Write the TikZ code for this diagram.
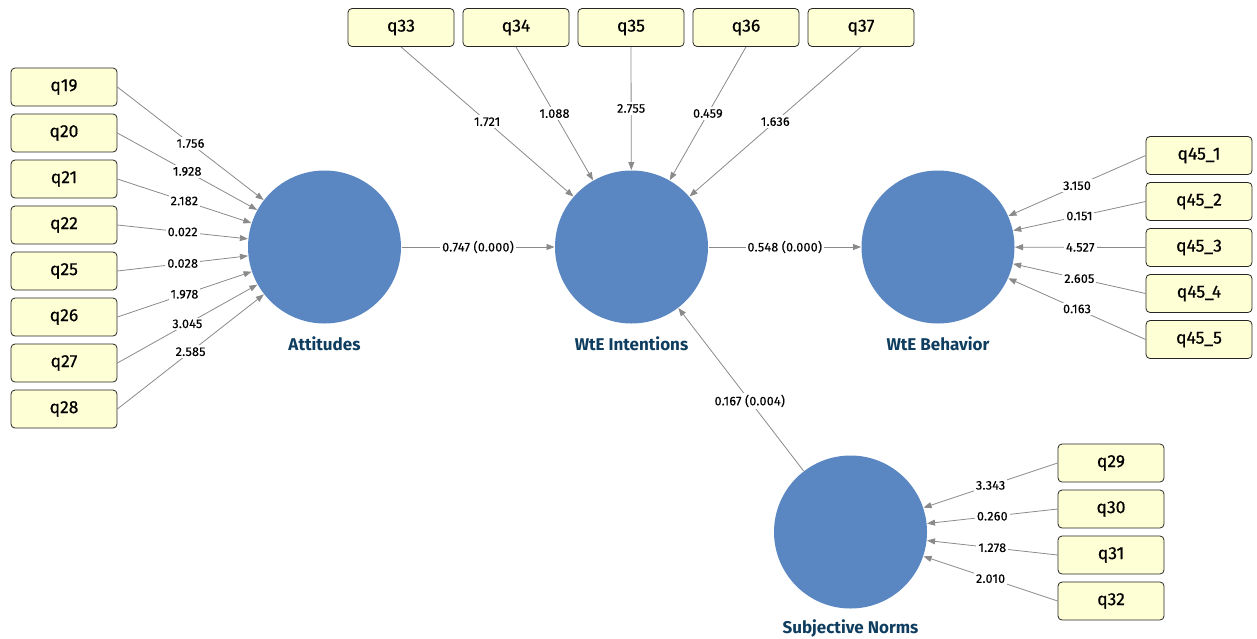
\documentclass[tikz,border=0pt]{standalone}
\usepackage{fontspec}
\setmainfont{Fira Sans}
\newfontfamily\boxfont{Fira Sans}[FakeBold=0.5]
\newfontfamily\numfont{Fira Sans}[FakeBold=0.3, LetterSpace=2]
\usetikzlibrary{arrows.meta}
\definecolor{lvcol}{HTML}{5A87C2}
\definecolor{lvtext}{HTML}{0E3D5F}
\definecolor{boxfill}{HTML}{FFFFD6}
\definecolor{edgecol}{HTML}{8A8A8A}
\begin{document}
\begin{tikzpicture}[x=1pt,y=-1pt,
  ind/.style={draw=black!85, fill=boxfill, rounded corners=4pt, minimum width=106pt, minimum height=38pt, inner sep=0pt, line width=0.8pt, font=\boxfont\fontsize{17.5}{19}\selectfont},
  lv/.style={circle, fill=lvcol, minimum size=153pt, inner sep=0pt, outer sep=0.5pt},
  lvlab/.style={font=\fontsize{17}{19}\selectfont\bfseries, text=lvtext},
  conn/.style={draw=edgecol, line width=0.8pt, -{Triangle[length=8pt,width=6pt]}},
  wlab/.style={fill=white, inner sep=2pt, font=\numfont\fontsize{12.5}{14}\selectfont, text=black}]
\useasboundingbox (0,0) rectangle (1257,638);

% latent variables
\node[lv] (att) at (324.5,247) {};
\node[lv] (int) at (631.5,247) {};
\node[lv] (beh) at (938,247) {};
\node[lv] (sn)  at (850.5,532) {};
\node[lvlab] (latt) at (324.5,344) {Attitudes};
\node[lvlab] (lint) at (631.5,344) {WtE Intentions};
\node[lvlab] (lbeh) at (938,344) {WtE Behavior};
\node[lvlab] (lsn)  at (850.5,628) {Subjective Norms};

% Attitudes indicators
\node[ind] (q19) at (64,87)  {q19};
\node[ind] (q20) at (64,133) {q20};
\node[ind] (q21) at (64,179) {q21};
\node[ind] (q22) at (64,225) {q22};
\node[ind] (q25) at (64,271) {q25};
\node[ind] (q26) at (64,317) {q26};
\node[ind] (q27) at (64,363) {q27};
\node[ind] (q28) at (64,409) {q28};
\draw[conn] (q19.east) -- node[wlab]{1.756} (att);
\draw[conn] (q20.east) -- node[wlab]{1.928} (att);
\draw[conn] (q21.east) -- node[wlab]{2.182} (att);
\draw[conn] (q22.east) -- node[wlab]{0.022} (att);
\draw[conn] (q25.east) -- node[wlab]{0.028} (att);
\draw[conn] (q26.east) -- node[wlab]{1.978} (att);
\draw[conn] (q27.east) -- node[wlab]{3.045} (att);
\draw[conn] (q28.east) -- node[wlab]{2.585} (att);

% Intentions indicators
\node[ind] (q33) at (401,27.5) {q33};
\node[ind] (q34) at (516,27.5) {q34};
\node[ind] (q35) at (631,27.5) {q35};
\node[ind] (q36) at (746,27.5) {q36};
\node[ind] (q37) at (861,27.5) {q37};
\draw[conn] (q33.south) -- node[wlab]{1.721} (int);
\draw[conn] (q34.south) -- node[wlab]{1.088} (int);
\draw[conn] (q35.south) -- node[wlab]{2.755} (int);
\draw[conn] (q36.south) -- node[wlab]{0.459} (int);
\draw[conn] (q37.south) -- node[wlab]{1.636} (int);

% Behavior indicators
\node[ind] (q451) at (1199,155.5) {q45\_1};
\node[ind] (q452) at (1199,201.5) {q45\_2};
\node[ind] (q453) at (1199,247.5) {q45\_3};
\node[ind] (q454) at (1199,293.5) {q45\_4};
\node[ind] (q455) at (1199,339.5) {q45\_5};
\draw[conn] (q451.west) -- node[wlab]{3.150} (beh);
\draw[conn] (q452.west) -- node[wlab]{0.151} (beh);
\draw[conn] (q453.west) -- node[wlab]{4.527} (beh);
\draw[conn] (q454.west) -- node[wlab]{2.605} (beh);
\draw[conn] (q455.west) -- node[wlab]{0.163} (beh);

% Subjective norms indicators
\node[ind] (q29) at (1111,463) {q29};
\node[ind] (q30) at (1111,509) {q30};
\node[ind] (q31) at (1111,555) {q31};
\node[ind] (q32) at (1111,601) {q32};
\draw[conn] (q29.west) -- node[wlab]{3.343} (sn);
\draw[conn] (q30.west) -- node[wlab]{0.260} (sn);
\draw[conn] (q31.west) -- node[wlab]{1.278} (sn);
\draw[conn] (q32.west) -- node[wlab]{2.010} (sn);

% structural paths
\draw[conn] (att) -- node[wlab]{0.747 (0.000)} (int);
\draw[conn] (int) -- node[wlab]{0.548 (0.000)} (beh);
\draw[conn] (sn) -- node[wlab,pos=0.43]{0.167 (0.004)} (int);
\end{tikzpicture}
\end{document}
